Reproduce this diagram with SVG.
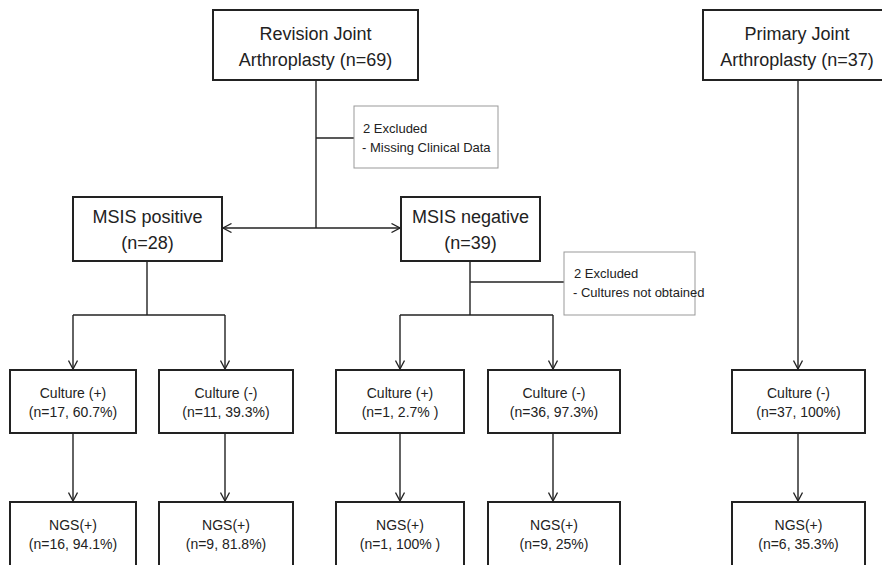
<svg xmlns="http://www.w3.org/2000/svg" width="882" height="565" viewBox="0 0 882 565">
<defs>
<marker id="arr" viewBox="0 0 10 10" refX="9.5" refY="5" markerWidth="10" markerHeight="10" markerUnits="userSpaceOnUse" orient="auto">
<path d="M1,0.5 L9.5,5 L1,9.5" fill="none" stroke="#222" stroke-width="1.3"/>
</marker>
<style>
.box{fill:#fff;stroke:#222;stroke-width:2}
.ex{fill:#fff;stroke:#999;stroke-width:1}
.ln{fill:none;stroke:#222;stroke-width:1.4}
.big{font-family:"Liberation Sans",Arial,sans-serif;font-size:18px;fill:#222;text-anchor:middle}
.mid{font-family:"Liberation Sans",Arial,sans-serif;font-size:14px;fill:#222;text-anchor:middle}
.sm{font-family:"Liberation Sans",Arial,sans-serif;font-size:13px;fill:#222}
</style>
</defs>
<rect width="882" height="565" fill="#fff"/>
<g id="connectors">
<path class="ln" d="M316,80 V228"/>
<path class="ln" d="M316,228 H223" marker-end="url(#arr)"/>
<path class="ln" d="M316,228 H400" marker-end="url(#arr)"/>
<path class="ln" d="M316,138 H354"/>
<path class="ln" d="M147,261 V315"/>
<path class="ln" d="M73,315 H225"/>
<path class="ln" d="M73,315 V369" marker-end="url(#arr)"/>
<path class="ln" d="M225,315 V369" marker-end="url(#arr)"/>
<path class="ln" d="M470,261 V315"/>
<path class="ln" d="M470,282 H564"/>
<path class="ln" d="M400,315 H553"/>
<path class="ln" d="M400,315 V369" marker-end="url(#arr)"/>
<path class="ln" d="M553,315 V369" marker-end="url(#arr)"/>
<path class="ln" d="M798,80 V369" marker-end="url(#arr)"/>
<path class="ln" d="M73,433 V501" marker-end="url(#arr)"/>
<path class="ln" d="M225,433 V501" marker-end="url(#arr)"/>
<path class="ln" d="M400,433 V501" marker-end="url(#arr)"/>
<path class="ln" d="M553,433 V501" marker-end="url(#arr)"/>
<path class="ln" d="M798,433 V501" marker-end="url(#arr)"/>
</g>
<g id="revision">
<rect class="box" x="213" y="10" width="205" height="70"/>
<text class="big" x="315.5" y="40">Revision Joint</text>
<text class="big" x="315.5" y="66">Arthroplasty (n=69)</text>
</g>
<g id="primary">
<rect class="box" x="703" y="10" width="190" height="70"/>
<text class="big" x="797" y="40">Primary Joint</text>
<text class="big" x="797" y="66">Arthroplasty (n=37)</text>
</g>
<g id="excluded1">
<rect class="ex" x="354" y="106" width="144" height="62"/>
<text class="sm" x="363" y="133">2 Excluded</text>
<text class="sm" x="362" y="152">- Missing Clinical Data</text>
</g>
<g id="msis-pos">
<rect class="box" x="73" y="197" width="149" height="64"/>
<text class="big" x="147.5" y="223">MSIS positive</text>
<text class="big" x="147.5" y="249">(n=28)</text>
</g>
<g id="msis-neg">
<rect class="box" x="401" y="197" width="139" height="64"/>
<text class="big" x="470.5" y="223">MSIS negative</text>
<text class="big" x="470.5" y="249">(n=39)</text>
</g>
<g id="excluded2">
<rect class="ex" x="564" y="252" width="131" height="63"/>
<text class="sm" x="574" y="278">2 Excluded</text>
<text class="sm" x="573" y="297">- Cultures not obtained</text>
</g>
<g id="c1">
<rect class="box" x="10" y="370" width="126" height="63"/>
<text class="mid" x="73" y="398">Culture (+)</text>
<text class="mid" x="73" y="417">(n=17, 60.7%)</text>
</g>
<g id="c2">
<rect class="box" x="159" y="370" width="134" height="63"/>
<text class="mid" x="226" y="398">Culture (-)</text>
<text class="mid" x="226" y="417">(n=11, 39.3%)</text>
</g>
<g id="c3">
<rect class="box" x="336" y="370" width="128" height="63"/>
<text class="mid" x="400" y="398">Culture (+)</text>
<text class="mid" x="400" y="417">(n=1, 2.7% )</text>
</g>
<g id="c4">
<rect class="box" x="488" y="370" width="132" height="63"/>
<text class="mid" x="554" y="398">Culture (-)</text>
<text class="mid" x="554" y="417">(n=36, 97.3%)</text>
</g>
<g id="c5">
<rect class="box" x="732" y="370" width="133" height="63"/>
<text class="mid" x="798.5" y="398">Culture (-)</text>
<text class="mid" x="798.5" y="417">(n=37, 100%)</text>
</g>
<g id="n1">
<rect class="box" x="10" y="502" width="126" height="70"/>
<text class="mid" x="73" y="530">NGS(+)</text>
<text class="mid" x="73" y="549">(n=16, 94.1%)</text>
</g>
<g id="n2">
<rect class="box" x="159" y="502" width="134" height="70"/>
<text class="mid" x="226" y="530">NGS(+)</text>
<text class="mid" x="226" y="549">(n=9, 81.8%)</text>
</g>
<g id="n3">
<rect class="box" x="336" y="502" width="128" height="70"/>
<text class="mid" x="400" y="530">NGS(+)</text>
<text class="mid" x="400" y="549">(n=1, 100% )</text>
</g>
<g id="n4">
<rect class="box" x="488" y="502" width="132" height="70"/>
<text class="mid" x="554" y="530">NGS(+)</text>
<text class="mid" x="554" y="549">(n=9, 25%)</text>
</g>
<g id="n5">
<rect class="box" x="732" y="502" width="133" height="70"/>
<text class="mid" x="798.5" y="530">NGS(+)</text>
<text class="mid" x="798.5" y="549">(n=6, 35.3%)</text>
</g>
</svg>
